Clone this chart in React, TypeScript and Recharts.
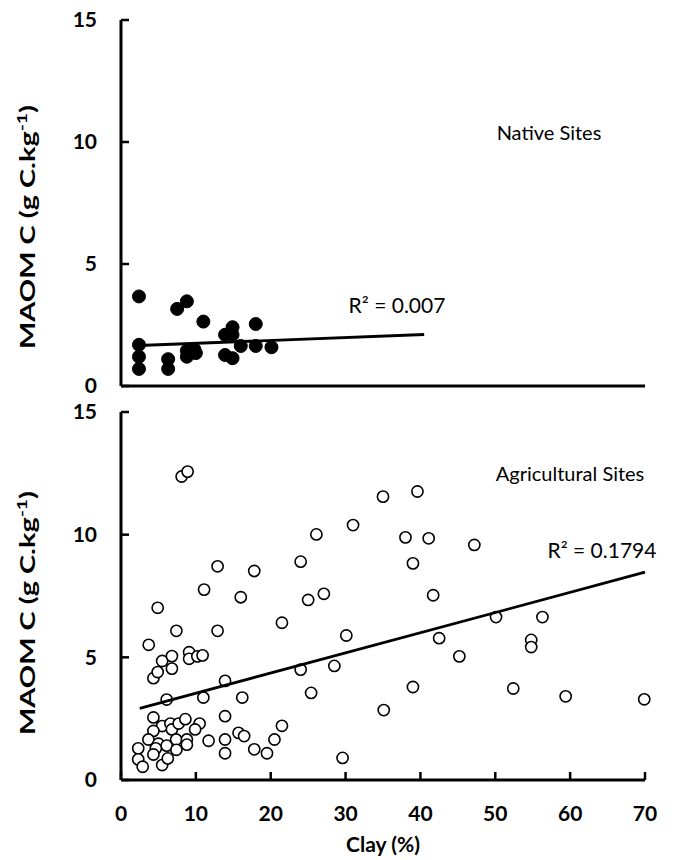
import React from 'react';
import { ScatterChart, Scatter, XAxis, YAxis } from 'recharts';

// Native sites (filled dots)
const nativeClay = [2.4, 2.4, 2.4, 2.4, 6.3, 6.3, 7.5, 8.8, 11.0, 8.8, 8.8, 9.8, 10.0, 13.9, 14.9, 14.9, 13.9, 14.9, 16.0, 18.0, 18.0, 20.1];
const nativeMaom = [3.67, 1.69, 1.2, 0.7, 1.1, 0.7, 3.16, 3.47, 2.64, 1.45, 1.2, 1.5, 1.35, 2.1, 2.41, 2.1, 1.27, 1.14, 1.64, 2.54, 1.64, 1.59];

// Agricultural sites (hollow dots)
const agriClay = [
  8.1, 8.9, 35.0, 39.6, 31.0, 26.1, 38.0, 41.1, 47.2, 39.0, 12.9, 17.8, 24.0, 11.1, 16.0, 25.0, 27.1, 41.7,
  4.9, 7.4, 12.9, 21.5, 30.1, 42.5, 50.1, 56.3, 54.8, 54.8, 45.2, 3.7, 5.5, 6.8, 6.8, 9.1, 9.1, 10.2, 10.9,
  4.33, 4.9, 28.5, 24.0, 25.4, 39.0, 52.4, 59.4, 69.9, 35.1, 29.6, 13.9, 6.1, 11.0, 16.2,
  4.33, 5.5, 4.33, 6.6, 6.8, 7.7, 8.6, 10.5, 9.9, 13.9, 21.5,
  3.66, 5.0, 7.37, 8.8, 8.8, 6.1, 4.65, 7.4, 11.7, 13.9, 13.9, 15.7, 16.45, 17.8, 19.5, 20.5,
  2.3, 2.3, 2.9, 4.33, 5.5, 6.25,
];
const agriMaom = [
  12.37, 12.57, 11.55, 11.76, 10.39, 10.01, 9.89, 9.85, 9.58, 8.83, 8.71, 8.52, 8.9, 7.76, 7.45, 7.34, 7.59, 7.53,
  7.02, 6.08, 6.08, 6.41, 5.89, 5.78, 6.64, 6.64, 5.71, 5.42, 5.04, 5.51, 4.85, 5.05, 4.54, 5.21, 4.94, 5.04, 5.08,
  4.15, 4.4, 4.65, 4.5, 3.55, 3.79, 3.73, 3.41, 3.29, 2.85, 0.9, 4.04, 3.28, 3.36, 3.36,
  2.55, 2.2, 2.0, 2.3, 2.06, 2.3, 2.48, 2.3, 2.06, 2.6, 2.21,
  1.65, 1.48, 1.65, 1.65, 1.44, 1.4, 1.29, 1.23, 1.6, 1.65, 1.09, 1.92, 1.79, 1.25, 1.09, 1.65,
  1.29, 0.84, 0.54, 1.04, 0.61, 0.88,
];

// Linear trend endpoints
const nativeTrendClay = [2.4, 40.5];
const nativeTrendMaom = [1.66, 2.11];
const agriTrendClay = [2.5, 70];
const agriTrendMaom = [2.92, 8.47];

const xTicks = [0, 10, 20, 30, 40, 50, 60, 70];
const yTicks = [0, 5, 10, 15];

const nativeR2 = 'R² = 0.007';
const agriR2 = 'R² = 0.1794';
const nativeTitle = 'Native Sites';
const agriTitle = 'Agricultural Sites';
const xTitle = 'Clay (%)';

const zip = (xs: number[], ys: number[]) => xs.map((x, i) => ({ clay: x, maom: ys[i] }));

const FONT = 'Lato, "Open Sans", "DejaVu Sans", sans-serif';

const axisLine = { stroke: '#000', strokeWidth: 3 };
const tickLine = { stroke: '#000', strokeWidth: 2.5 };
const tickStyle = { fill: '#000', fontSize: 21, fontWeight: 700, fontFamily: FONT };

const filledDot = (p: any) => <circle cx={p.cx} cy={p.cy} r={6.5} fill="#000" stroke="#000" strokeWidth={1} />;
const hollowDot = (p: any) => <circle cx={p.cx} cy={p.cy} r={5.6} fill="#fff" stroke="#000" strokeWidth={1.6} />;
const noShape = () => <g />;

const YTitle = ({ cy }: { cy: number }) => (
  <text
    transform={`translate(35,${cy}) rotate(-90)`}
    textAnchor="middle"
    fontSize={21}
    fontWeight={700}
    fontFamily={FONT}
    fill="#000"
    textLength={244}
    lengthAdjust="spacingAndGlyphs"
  >
    MAOM C (g C.kg<tspan dy={-8} fontSize={14}>-1</tspan>
    <tspan dy={8}>)</tspan>
  </text>
);

export default function App() {
  const native = zip(nativeClay, nativeMaom);
  const agri = zip(agriClay, agriMaom);
  const nativeTrend = zip(nativeTrendClay, nativeTrendMaom);
  const agriTrend = zip(agriTrendClay, agriTrendMaom);

  return (
    <div style={{ position: 'absolute', left: 0, top: 0, width: 674, height: 860, background: '#fff' }}>
      <div style={{ position: 'absolute', left: 0, top: 0 }}>
        <ScatterChart width={674} height={400} margin={{ top: 20, right: 29, left: 0, bottom: 0 }}>
          <XAxis
            type="number"
            dataKey="clay"
            domain={[0, 70]}
            ticks={xTicks}
            interval={0}
            height={14}
            tick={false}
            tickSize={-8}
            axisLine={axisLine}
            tickLine={tickLine}
          />
          <YAxis
            type="number"
            dataKey="maom"
            domain={[0, 15]}
            ticks={yTicks}
            interval={0}
            width={121}
            tickSize={-8}
            tickMargin={32}
            axisLine={axisLine}
            tickLine={tickLine}
            tick={tickStyle}
          />
          <Scatter data={native} dataKey="maom" shape={filledDot} isAnimationActive={false} />
          <Scatter
            data={nativeTrend}
            dataKey="maom"
            shape={noShape}
            line={{ stroke: '#000', strokeWidth: 2.8 }}
            isAnimationActive={false}
          />
        </ScatterChart>
      </div>
      <div style={{ position: 'absolute', left: 0, top: 388 }}>
        <ScatterChart width={674} height={472} margin={{ top: 24, right: 29, left: 0, bottom: 0 }}>
          <XAxis
            type="number"
            dataKey="clay"
            domain={[0, 70]}
            ticks={xTicks}
            interval={0}
            height={80}
            tickSize={-8}
            tickMargin={34}
            axisLine={axisLine}
            tickLine={tickLine}
            tick={tickStyle}
          />
          <YAxis
            type="number"
            dataKey="maom"
            domain={[0, 15]}
            ticks={yTicks}
            interval={0}
            width={121}
            tickSize={-8}
            tickMargin={32}
            axisLine={axisLine}
            tickLine={tickLine}
            tick={tickStyle}
          />
          <Scatter data={agri} dataKey="maom" shape={hollowDot} isAnimationActive={false} />
          <Scatter
            data={agriTrend}
            dataKey="maom"
            shape={noShape}
            line={{ stroke: '#000', strokeWidth: 2.8 }}
            isAnimationActive={false}
          />
        </ScatterChart>
      </div>
      <svg
        width={674}
        height={860}
        style={{ position: 'absolute', left: 0, top: 0, pointerEvents: 'none' }}
      >
        <YTitle cy={227} />
        <YTitle cy={613} />
        <text x={549} y={140} textAnchor="middle" fontSize={20} fontFamily={FONT} fill="#000">{nativeTitle}</text>
        <text x={397} y={313} textAnchor="middle" fontSize={21} fontFamily={FONT} fill="#000">{nativeR2}</text>
        <text x={570} y={481} textAnchor="middle" fontSize={20} fontFamily={FONT} fill="#000">{agriTitle}</text>
        <text x={602} y={558} textAnchor="middle" fontSize={21} fontFamily={FONT} fill="#000">{agriR2}</text>
        <text x={383} y={852} textAnchor="middle" fontSize={21} fontWeight={700} fontFamily={FONT} fill="#000">{xTitle}</text>
      </svg>
    </div>
  );
}
